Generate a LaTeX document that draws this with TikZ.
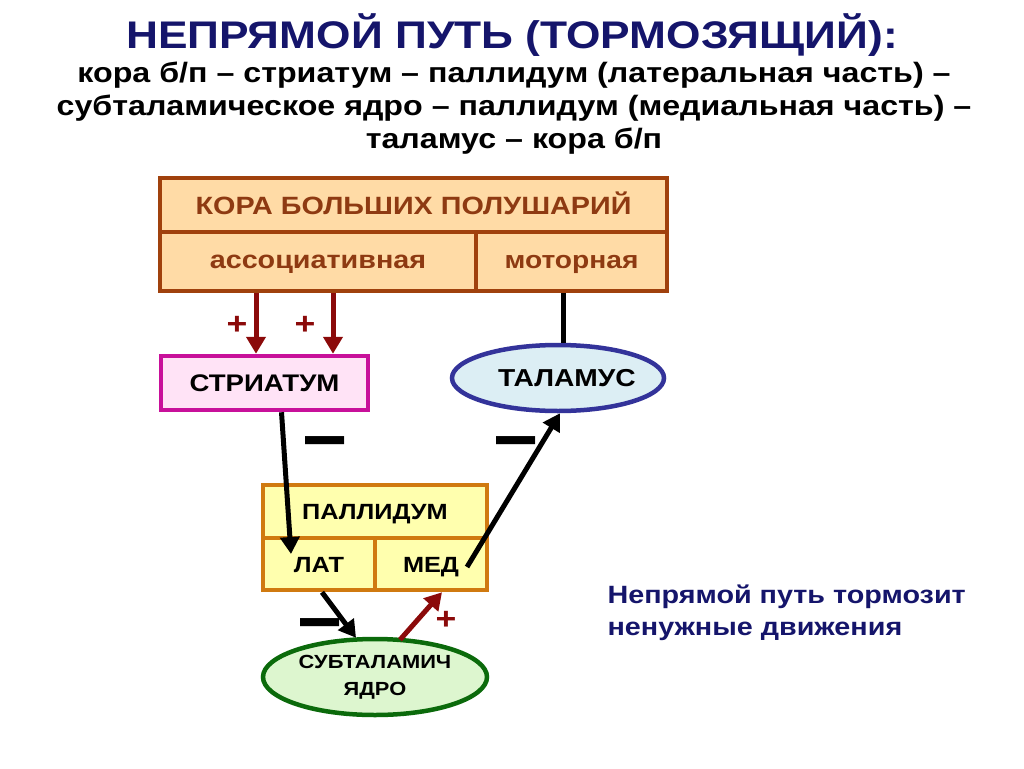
\documentclass[tikz,border=0pt]{standalone}
\usepackage{fontspec}
\setmainfont{Liberation Sans}[FakeStretch=1.15]
\usetikzlibrary{arrows.meta,calc,shapes.geometric}
\definecolor{navy}{HTML}{15156B}
\definecolor{brownb}{HTML}{A0410D}
\definecolor{browntxt}{HTML}{8E3A12}
\definecolor{peach}{HTML}{FFDBA6}
\definecolor{magb}{HTML}{C8109A}
\definecolor{pinkf}{HTML}{FFE3F6}
\definecolor{orangeb}{HTML}{D07A10}
\definecolor{yellowf}{HTML}{FFFFAE}
\definecolor{blueb}{HTML}{33339A}
\definecolor{bluef}{HTML}{DCEEF4}
\definecolor{greenb}{HTML}{0B6A0B}
\definecolor{greenf}{HTML}{DDF6CF}
\definecolor{darkred}{HTML}{8B0A0A}
\newcommand{\fs}[1]{\bfseries\fontsize{#1}{#1}\selectfont}
\tikzset{
  cortexcell/.style={draw=brownb,fill=peach,line width=4.5pt,inner sep=0pt,text=browntxt,font=\fs{25},text height=18pt,text depth=0pt},
  lowercell/.style={text height=13pt,text depth=0pt},
  pallcell/.style={draw=orangeb,fill=yellowf,line width=4.5pt,inner sep=0pt,font=\fs{22},text height=16pt,text depth=0pt},
  exc/.style={draw=darkred,line width=5pt,-{Triangle[width=19pt,length=17pt]}},
  inh/.style={draw=black,line width=5pt,-{Triangle[width=19pt,length=17pt]}},
  sign/.style={font=\fs{31},inner sep=0pt},
  minus/.style={font=\fs{34},inner sep=0pt},
}
\newcommand{\thickminus}{\raisebox{-22pt}[3pt][3pt]{\scalebox{1}[2.4]{—}}}
\begin{document}
\begin{tikzpicture}[x=1pt,y=-1pt]
\useasboundingbox (0,0) rectangle (1024,768);
% titles
\node[text=navy,font=\bfseries\fontsize{38.5}{42}\selectfont] (t1) at (512,35) {НЕПРЯМОЙ ПУТЬ (ТОРМОЗЯЩИЙ):};
\node[font=\bfseries\fontsize{28}{33}\selectfont,align=center] (t2) at (514,108)
  {кора б/п – стриатум – паллидум (латеральная часть) –\\субталамическое ядро – паллидум (медиальная часть) –\\таламус – кора б/п};
% cortex
\node[cortexcell,minimum width=507pt,minimum height=54pt] (cortex) at (413.5,205) {КОРА БОЛЬШИХ ПОЛУШАРИЙ};
\node[cortexcell,lowercell,minimum width=316pt,minimum height=59pt] (assoc) at (318,261.5) {ассоциативная};
\node[cortexcell,lowercell,minimum width=191pt,minimum height=59pt,font=\fs{24.5}] (motor) at (571.5,261.5) {моторная};
% striatum
\node[draw=magb,fill=pinkf,line width=4.5pt,minimum width=207pt,minimum height=54pt,inner sep=0pt,font=\fs{24},text height=17pt,text depth=0pt] (striatum) at (264.5,383) {СТРИАТУМ};
% thalamus
\node[ellipse,draw=blueb,fill=bluef,line width=4.5pt,minimum width=212pt,minimum height=66pt,inner sep=0pt] (thal) at (558,378) {};
\node[font=\fs{24.5},text height=17.5pt,text depth=0pt,inner sep=0pt] (thaltxt) at (567,378) {ТАЛАМУС};
% pallidum
\node[pallcell,minimum width=224pt,minimum height=53pt] (pall) at (375,511.5) {ПАЛЛИДУМ};
\node[pallcell,minimum width=112pt,minimum height=52pt] (lat) at (319,564) {ЛАТ};
\node[pallcell,minimum width=112pt,minimum height=52pt] (med) at (431,564) {МЕД};
% subthalamic
\node[ellipse,draw=greenb,fill=greenf,line width=4.5pt,minimum width=224pt,minimum height=76pt,inner sep=0pt,align=center,font=\bfseries\fontsize{19}{27}\selectfont] (subth) at (375,677) {СУБТАЛАМИЧ\\ЯДРО};
% note
\node[text=navy,anchor=west,align=left,font=\bfseries\fontsize{25}{32}\selectfont] (note) at (604,613) {Непрямой путь тормозит\\ненужные движения};
% connectors
\coordinate (c1) at (256,0);
\coordinate (c2) at (333,0);
\coordinate (c3) at (563,0);
\draw[exc] (assoc.south -| c1) -- (striatum.north -| c1);
\draw[exc] (assoc.south -| c2) -- (striatum.north -| c2);
\draw[line width=5pt] (motor.south -| c3) -- (thal.north -| c3);
\node[sign,text=darkred] (p1) at (237,325) {+};
\node[sign,text=darkred] (p2) at (305,325) {+};
\draw[inh] ($(striatum.south)+(17,0)$) -- ($(lat.center)+(-28,-10)$);
\draw[inh] ($(med.center)+(36,3)$) -- ($(thal.south)+(2,0)$);
\draw[inh] ($(lat.south)+(3,0)$) -- ($(subth.north)+(-19,1)$);
\draw[exc] ($(subth.north)+(25,3)$) -- ($(med.south)+(11,0)$);
\node[minus] (m1) at (325,440) {\thickminus};
\node[minus] (m2) at (516,440) {\thickminus};
\node[minus] (m3) at (320,622) {\thickminus};
\node[sign,text=darkred] (p3) at (446,620) {+};
\end{tikzpicture}
\end{document}
